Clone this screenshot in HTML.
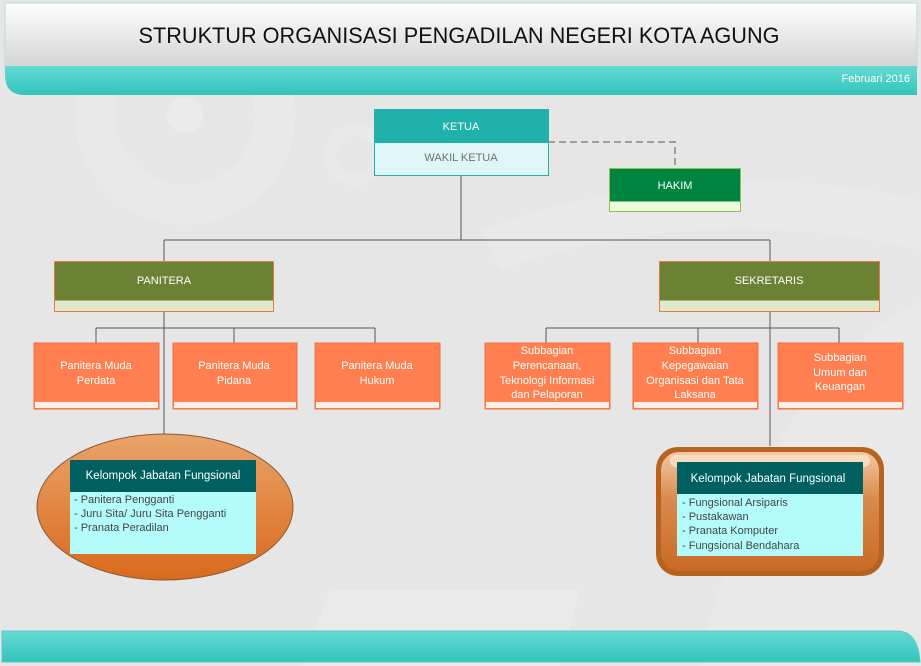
<!DOCTYPE html>
<html><head><meta charset="utf-8"><style>
html,body{margin:0;padding:0;background:#e6e6e6;}
svg{display:block;font-family:"Liberation Sans",sans-serif;}
</style></head><body>
<svg width="921" height="666" viewBox="0 0 921 666" xmlns="http://www.w3.org/2000/svg">
<defs>
<linearGradient id="hdr" x1="0" y1="0" x2="0" y2="1"><stop offset="0" stop-color="#ffffff"/><stop offset="1" stop-color="#d4d4d4"/></linearGradient>
<linearGradient id="teal" x1="0" y1="0" x2="0" y2="1"><stop offset="0" stop-color="#66dad4"/><stop offset="1" stop-color="#33c4bd"/></linearGradient>
<linearGradient id="ell" x1="0" y1="0" x2="0" y2="1"><stop offset="0" stop-color="#eaa46a"/><stop offset="1" stop-color="#d9691c"/></linearGradient>
<linearGradient id="rr" x1="0" y1="0" x2="0" y2="1"><stop offset="0" stop-color="#f3c9a2"/><stop offset="0.4" stop-color="#d98a4c"/><stop offset="1" stop-color="#c86a26"/></linearGradient>
</defs>
<rect width="921" height="666" fill="#e6e6e6"/>
<circle cx="185" cy="115" r="90" fill="none" stroke="#e9e9e9" stroke-width="40"/>
<circle cx="185" cy="115" r="18" fill="#ebebeb"/>
<circle cx="355" cy="155" r="25" fill="none" stroke="#e9e9e9" stroke-width="12"/>
<path d="M480 230 Q700 150 921 200 L921 250 Q700 200 500 270 Z" fill="#e9e9e9"/>
<path d="M700 666 Q760 380 921 300 L921 666 Z" fill="#e9e9e9"/>
<path d="M300 666 L330 590 L580 590 L560 666 Z" fill="#eaeaea"/>
<!-- header -->
<rect x="5" y="3" width="912" height="64" fill="url(#hdr)" stroke="#b8dcdc"/>
<path d="M5 66 H917 V95 H25 Q5 95 5 75 Z" fill="url(#teal)"/>
<text x="459" y="43" text-anchor="middle" font-size="22" fill="#111" textLength="641" lengthAdjust="spacingAndGlyphs">STRUKTUR ORGANISASI PENGADILAN NEGERI KOTA AGUNG</text>
<text x="910" y="82" text-anchor="end" font-size="11" fill="#fff">Februari 2016</text>
<!-- footer -->
<path d="M2 631 H897 Q918 631 920 662 H2 Z" fill="url(#teal)" stroke="#5cc9c3"/>
<!-- connectors -->
<g stroke="#555" stroke-width="1" fill="none">
<path d="M461 175 V240 M164 240 H770 M164 240 V261 M770 240 V261"/>
<path d="M548 142 H675 V168" stroke-dasharray="7,4"/>
<path d="M164 311 V434 M96 328 H375 M96 328 V343 M234 328 V343 M375 328 V343"/>
<path d="M770 311 V446 M546 328 H839 M546 328 V343 M698 328 V343 M839 328 V343"/>
</g>
<!-- ketua -->
<rect x="374.5" y="109.5" width="174" height="33" fill="#20b2aa"/>
<rect x="374.5" y="142.5" width="174" height="33" fill="#e0f5f5" stroke="#20b2aa"/>
<rect x="374.5" y="109.5" width="174" height="66" fill="none" stroke="#20b2aa"/>
<text x="461" y="130" text-anchor="middle" font-size="11" fill="#fff">KETUA</text>
<text x="461" y="161" text-anchor="middle" font-size="11" fill="#6a7080">WAKIL KETUA</text>
<!-- hakim -->
<rect x="609.5" y="168.5" width="131" height="33" fill="#008540"/>
<rect x="609.5" y="201.5" width="131" height="10" fill="#eefadc"/>
<rect x="609.5" y="168.5" width="131" height="43" fill="none" stroke="#8bc34a"/>
<text x="675" y="189" text-anchor="middle" font-size="11" fill="#fff">HAKIM</text>
<!-- panitera / sekretaris -->
<g>
<rect x="54.5" y="261.5" width="219" height="39" fill="#6b8133"/>
<rect x="54.5" y="300.5" width="219" height="11" fill="#e1e8cc"/>
<rect x="54.5" y="261.5" width="219" height="50" fill="none" stroke="#ec7a45"/>
<text x="164" y="284" text-anchor="middle" font-size="11" fill="#fff">PANITERA</text>
<rect x="659.5" y="261.5" width="220" height="39" fill="#6b8133"/>
<rect x="659.5" y="300.5" width="220" height="11" fill="#e1e8cc"/>
<rect x="659.5" y="261.5" width="220" height="50" fill="none" stroke="#ec7a45"/>
<text x="769" y="284" text-anchor="middle" font-size="11" fill="#fff">SEKRETARIS</text>
</g>
<!-- child boxes -->
<g font-size="11" fill="#fff" text-anchor="middle">
<rect x="34" y="343" width="125" height="66" fill="#ff7f50" stroke="#f07040"/><rect x="35" y="402" width="123" height="6" fill="#fdeee6"/>
<text x="96" y="369">Panitera Muda</text><text x="96" y="384">Perdata</text>
<rect x="173" y="343" width="124" height="66" fill="#ff7f50" stroke="#f07040"/><rect x="174" y="402" width="122" height="6" fill="#fdeee6"/>
<text x="234" y="369">Panitera Muda</text><text x="234" y="384">Pidana</text>
<rect x="315" y="343" width="125" height="66" fill="#ff7f50" stroke="#f07040"/><rect x="316" y="402" width="123" height="6" fill="#fdeee6"/>
<text x="377" y="369">Panitera Muda</text><text x="377" y="384">Hukum</text>
<rect x="485" y="343" width="125" height="66" fill="#ff7f50" stroke="#f07040"/><rect x="486" y="402" width="123" height="6" fill="#fdeee6"/>
<text x="547" y="354">Subbagian</text><text x="547" y="369">Perencanaan,</text><text x="547" y="384">Teknologi Informasi</text><text x="547" y="398">dan Pelaporan</text>
<rect x="633" y="343" width="125" height="66" fill="#ff7f50" stroke="#f07040"/><rect x="634" y="402" width="123" height="6" fill="#fdeee6"/>
<text x="695" y="354">Subbagian</text><text x="695" y="369">Kepegawaian</text><text x="695" y="384">Organisasi dan Tata</text><text x="695" y="398">Laksana</text>
<rect x="778" y="343" width="125" height="66" fill="#ff7f50" stroke="#f07040"/><rect x="779" y="402" width="123" height="6" fill="#fdeee6"/>
<text x="840" y="361">Subbagian</text><text x="840" y="376">Umum dan</text><text x="840" y="390">Keuangan</text>
</g>
<!-- ellipse group -->
<ellipse cx="165" cy="507" rx="128" ry="73" fill="url(#ell)" stroke="#8a5a30" stroke-width="1"/>
<rect x="70" y="460" width="186" height="32" fill="#005f5f"/>
<rect x="70" y="492" width="186" height="62" fill="#b4fcfc"/>
<text x="163" y="479" text-anchor="middle" font-size="11.5" fill="#fff">Kelompok Jabatan Fungsional</text>
<g font-size="11" fill="#444"><text x="74" y="503">- Panitera Pengganti</text><text x="74" y="517">- Juru Sita/ Juru Sita Pengganti</text><text x="74" y="531">- Pranata Peradilan</text></g>
<!-- right rounded -->
<rect x="656" y="447" width="228" height="129" rx="22" fill="#b8621f"/>
<rect x="661" y="452" width="218" height="119" rx="18" fill="url(#rr)"/>
<rect x="670" y="455" width="200" height="12" rx="6" fill="#fbe3cc" opacity="0.8"/>
<rect x="677" y="462" width="186" height="32" fill="#005f5f"/>
<rect x="677" y="494" width="186" height="62" fill="#b4fcfc"/>
<text x="768" y="482" text-anchor="middle" font-size="11.5" fill="#fff">Kelompok Jabatan Fungsional</text>
<g font-size="11" fill="#444"><text x="682" y="506">- Fungsional Arsiparis</text><text x="682" y="520">- Pustakawan</text><text x="682" y="534">- Pranata Komputer</text><text x="682" y="549">- Fungsional Bendahara</text></g>
</svg>
</body></html>
